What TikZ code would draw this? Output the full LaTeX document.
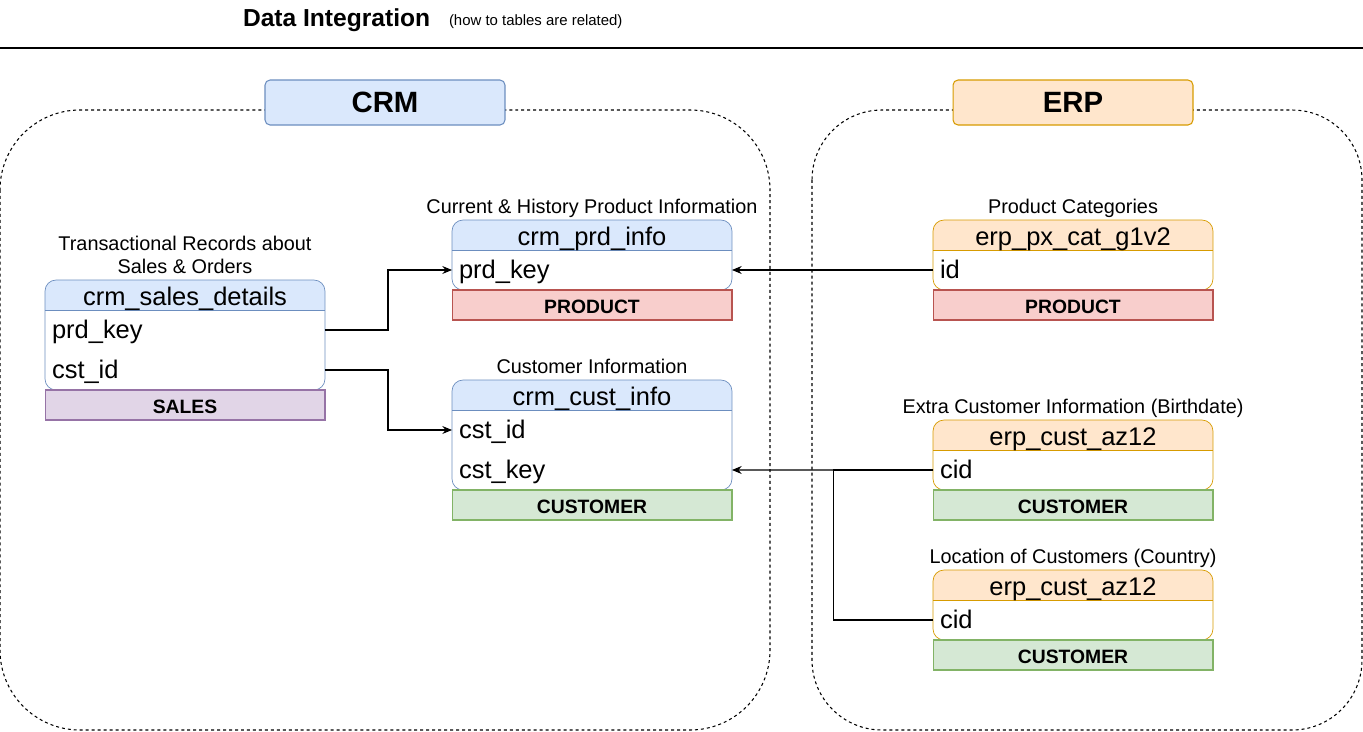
\documentclass[tikz,border=0pt]{standalone}
\usepackage{fontspec}
\setmainfont{Liberation Sans}
\usetikzlibrary{arrows.meta, positioning, backgrounds}

\definecolor{crmfill}{HTML}{DAE8FC}
\definecolor{crmline}{HTML}{6C8EBF}
\definecolor{erpfill}{HTML}{FFE6CC}
\definecolor{erpline}{HTML}{D79B00}
\definecolor{prdfill}{HTML}{F8CECC}
\definecolor{prdline}{HTML}{B85450}
\definecolor{custfill}{HTML}{D5E8D4}
\definecolor{custline}{HTML}{82B366}
\definecolor{salesfill}{HTML}{E1D5E7}
\definecolor{salesline}{HTML}{9673A6}

% frame of a table: #1 header node, #2 last row, #3 fill, #4 line
\newcommand{\tblframe}[4]{%
  \fill[white, rounded corners=0.22cm] (#1.north west) rectangle (#2.south east);
  \begin{scope}
    \clip[rounded corners=0.22cm] (#1.north west) rectangle (#2.south east);
    \fill[#3] (#1.north west) rectangle (#1.south east);
  \end{scope}
  \draw[#4] (#1.south west) -- (#1.south east);
  \draw[#4, rounded corners=0.22cm] (#1.north west) rectangle (#2.south east);
}

\begin{document}
\begin{tikzpicture}[x=0.02cm, y=0.02cm, line width=0.6pt, >={Stealth[length=5.5pt,width=4.5pt]},
    every node/.style={outer sep=0pt},
    hdr/.style={minimum width=5.6cm, minimum height=0.6cm, inner sep=0pt, text height=11.4pt, text depth=0pt, font=\fontsize{14.5}{17}\selectfont},
    row/.style={minimum width=5.6cm, minimum height=0.8cm, text width=5.32cm, inner xsep=0.14cm, inner ysep=0pt, text height=12.6pt, text depth=3pt, align=left, font=\fontsize{14.5}{17}\selectfont},
    tag/.style 2 args={fill=#1, draw=#2, minimum width=5.6cm, minimum height=0.6cm, inner sep=0pt, text height=9.8pt, text depth=0pt, font=\fontsize{11}{13}\selectfont\bfseries},
    note/.style={inner sep=0pt, align=center, text depth=0pt, font=\fontsize{11.3}{13}\selectfont},
    lbl/.style 2 args={fill=#1, draw=#2, rounded corners=0.1cm, minimum width=4.8cm, minimum height=0.9cm, inner sep=0pt, font=\fontsize{16.7}{19}\selectfont\bfseries},
    zone/.style={dash pattern=on 1.7pt off 1.7pt}]
    \useasboundingbox (0,0) rectangle (1363,-731);

    % title
    \node[anchor=base west, inner sep=0pt, font=\fontsize{14}{16}\selectfont\bfseries] (title) at (243,-26) {Data Integration};
    \node[anchor=base west, inner sep=0pt, font=\fontsize{8.5}{10}\selectfont] (subtitle) at (449,-25) {(how to tables are related)};
    \draw (0,-48) -- (1363,-48);

    % source systems
    \draw[zone, rounded corners=1.6cm] (0,-110) rectangle (770,-730);
    \draw[zone, rounded corners=1.4cm] (812,-110) rectangle (1362,-730);
    \node[lbl={crmfill}{crmline}] (crm) at (385,-102.5) {CRM};
    \node[lbl={erpfill}{erpline}] (erp) at (1073,-102.5) {ERP};

    % crm tables
    \node[hdr] (salesHead) at (185,-295) {crm\_sales\_details};
    \node[row, below=0pt of salesHead] (salesPrd) {prd\_key};
    \node[row, below=0pt of salesPrd] (salesCst) {cst\_id};
    \node[tag={salesfill}{salesline}, below=0pt of salesCst] (salesTag) {SALES};
    \node[note, above=0.13cm of salesHead] (salesNote) {Transactional Records about\\Sales \& Orders};

    \node[hdr] (prdHead) at (592,-235) {crm\_prd\_info};
    \node[row, below=0pt of prdHead] (prdKey) {prd\_key};
    \node[tag={prdfill}{prdline}, below=0pt of prdKey] (prdTag) {PRODUCT};
    \node[note, above=0.14cm of prdHead] (prdNote) {Current \& History Product Information};

    \node[hdr] (custHead) at (592,-395) {crm\_cust\_info};
    \node[row, below=0pt of custHead] (custId) {cst\_id};
    \node[row, below=0pt of custId] (custKey) {cst\_key};
    \node[tag={custfill}{custline}, below=0pt of custKey] (custTag) {CUSTOMER};
    \node[note, above=0.14cm of custHead] (custNote) {Customer Information};

    % erp tables
    \node[hdr] (catHead) at (1073,-235) {erp\_px\_cat\_g1v2};
    \node[row, below=0pt of catHead] (catId) {id};
    \node[tag={prdfill}{prdline}, below=0pt of catId] (catTag) {PRODUCT};
    \node[note, above=0.14cm of catHead] (catNote) {Product Categories};

    \node[hdr] (azHead) at (1073,-435) {erp\_cust\_az12};
    \node[row, below=0pt of azHead] (azCid) {cid};
    \node[tag={custfill}{custline}, below=0pt of azCid] (azTag) {CUSTOMER};
    \node[note, above=0.14cm of azHead] (azNote) {Extra Customer Information (Birthdate)};

    \node[hdr] (locHead) at (1073,-585) {erp\_cust\_az12};
    \node[row, below=0pt of locHead] (locCid) {cid};
    \node[tag={custfill}{custline}, below=0pt of locCid] (locTag) {CUSTOMER};
    \node[note, above=0.14cm of locHead] (locNote) {Location of Customers (Country)};

    \begin{scope}[on background layer]
        \tblframe{salesHead}{salesCst}{crmfill}{crmline}
        \tblframe{prdHead}{prdKey}{crmfill}{crmline}
        \tblframe{custHead}{custKey}{crmfill}{crmline}
        \tblframe{catHead}{catId}{erpfill}{erpline}
        \tblframe{azHead}{azCid}{erpfill}{erpline}
        \tblframe{locHead}{locCid}{erpfill}{erpline}
    \end{scope}

    % relations
    \draw[->] (salesPrd.east) -- ++(63,0) |- (prdKey.west);
    \draw[->] (salesCst.east) -- ++(63,0) |- (custId.west);
    \draw[->] (catId.west) -- (prdKey.east);
    \draw[->] (azCid.west) -- (custKey.east);
    \draw (locCid.west) -- ++(-100,0) |- (azCid.west);
\end{tikzpicture}
\end{document}
